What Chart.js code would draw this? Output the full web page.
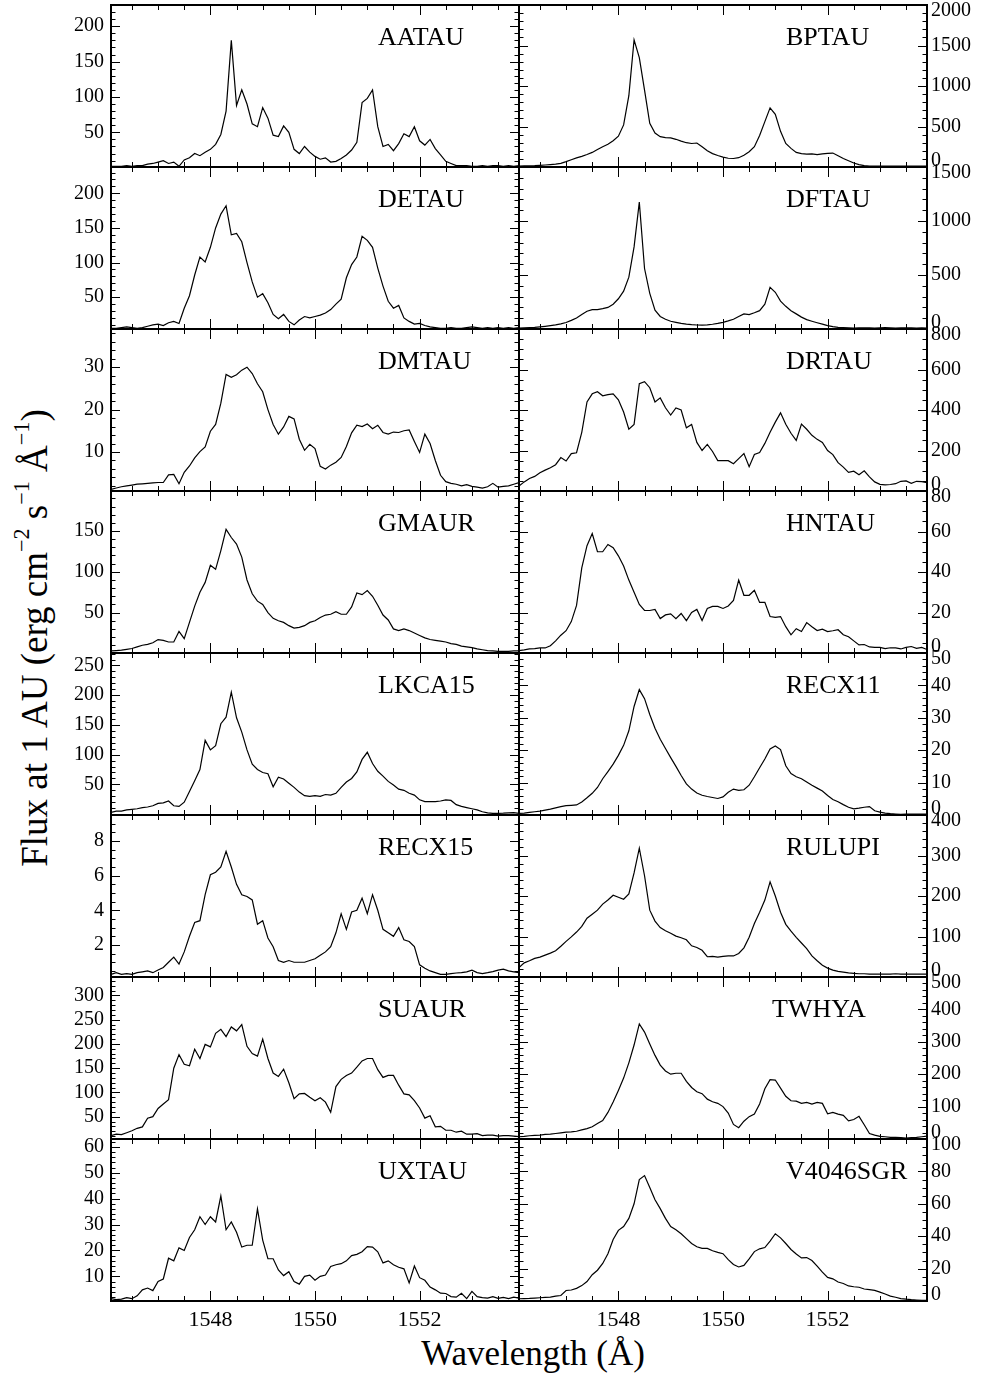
<!DOCTYPE html>
<html>
<head>
<meta charset="utf-8">
<script src="https://cdn.jsdelivr.net/npm/chart.js@4.4.0/dist/chart.umd.min.js"></script>
<style>
  html, body { margin: 0; padding: 0; background: #fff; }
  body { width: 982px; height: 1376px; position: relative; overflow: hidden; font-family: "Liberation Serif", "Times New Roman", serif; color: #000; }
  canvas { position: absolute; }
  .xtitle { position: absolute; left: 333px; width: 400px; top: 1336px; text-align: center; font-size: 35px; line-height: 35px; }
  .ytitle { position: absolute; width: 700px; height: 40px; line-height: 40px; left: -315.5px; top: 618px; text-align: center; font-size: 37px; white-space: nowrap; transform: rotate(-90deg); }
  .ytitle sup { font-size: 0.6em; vertical-align: 0.8em; line-height: 0; }
</style>
</head>
<body>
<div class="ytitle">Flux at 1 AU (erg cm<sup>&minus;2</sup> s<sup>&minus;1</sup> &Aring;<sup>&minus;1</sup>)</div>
<div class="xtitle">Wavelength (&Aring;)</div>
<script>
// wavelength grid (Angstrom), shared by every star
const wavelength = [
  1546.1, 1546.2, 1546.3, 1546.4, 1546.5, 1546.6, 1546.7, 1546.8, 1546.9, 1547.0,
  1547.1, 1547.2, 1547.3, 1547.4, 1547.5, 1547.6, 1547.7, 1547.8, 1547.9, 1548.0,
  1548.1, 1548.2, 1548.3, 1548.4, 1548.5, 1548.6, 1548.7, 1548.8, 1548.9, 1549.0,
  1549.1, 1549.2, 1549.3, 1549.4, 1549.5, 1549.6, 1549.7, 1549.8, 1549.9, 1550.0,
  1550.1, 1550.2, 1550.3, 1550.4, 1550.5, 1550.6, 1550.7, 1550.8, 1550.9, 1551.0,
  1551.1, 1551.2, 1551.3, 1551.4, 1551.5, 1551.6, 1551.7, 1551.8, 1551.9, 1552.0,
  1552.1, 1552.2, 1552.3, 1552.4, 1552.5, 1552.6, 1552.7, 1552.8, 1552.9, 1553.0,
  1553.1, 1553.2, 1553.3, 1553.4, 1553.5, 1553.6, 1553.7, 1553.8, 1553.9
];

// C IV flux at 1 AU for each star
const aatau = [
  2, 2, 2, 3, 2, 3, 3, 5, 6, 8,
  10, 6, 8, 2, 11, 14, 20, 17, 22, 26,
  33, 47, 80, 180, 88, 110, 90, 62, 58, 85,
  70, 46, 44, 59, 50, 26, 20, 30, 22, 16,
  12, 14, 8, 9, 13, 18, 25, 36, 92, 98,
  110, 58, 30, 33, 24, 34, 48, 44, 58, 38,
  32, 40, 27, 18, 9, 6, 3, 3, 3, 2,
  2, 3, 2, 3, 3, 2, 3, 2, 3
];
const bptau = [
  12, 13, 14, 16, 20, 25, 30, 36, 45, 66,
  90, 112, 132, 155, 180, 215, 250, 280, 325, 381,
  520, 880, 1570, 1350, 950, 540, 420, 375, 362, 360,
  342, 320, 300, 290, 296, 250, 200, 165, 142, 122,
  108, 105, 115, 145, 188, 250, 390, 560, 730, 650,
  440, 290, 230, 180, 165, 160, 162, 153, 162, 168,
  172, 140, 105, 78, 50, 30, 17, 12, 12, 11,
  12, 12, 12, 11, 12, 12, 12, 12, 12
];
const detau = [
  5, 5, 6, 7, 6, 5, 6, 8, 10, 11,
  9, 13, 15, 12, 34, 52, 82, 108, 101, 122,
  150, 170, 182, 140, 142, 130, 100, 72, 50, 55,
  42, 25, 19, 25, 15, 10, 17, 22, 20, 22,
  24, 27, 32, 40, 47, 78, 97, 108, 138, 132,
  122, 92, 66, 44, 34, 38, 20, 15, 11, 12,
  9, 7, 6, 5, 5, 6, 5, 5, 6, 7,
  6, 5, 6, 5, 6, 5, 6, 5, 6
];
const dftau = [
  9, 11, 13, 15, 20, 25, 31, 38, 48, 60,
  80, 102, 135, 165, 180, 180, 188, 200, 230, 280,
  350, 480, 760, 1175, 560, 330, 175, 116, 90, 72,
  62, 52, 45, 40, 37, 35, 38, 44, 52, 62,
  75, 90, 115, 140, 134, 150, 170, 230, 385, 340,
  258, 210, 170, 140, 110, 87, 72, 58, 45, 32,
  22, 15, 12, 10, 9, 10, 11, 10, 9, 10,
  12, 10, 9, 10, 11, 10, 9, 10, 9
];
const dmtau = [
  1.2, 1.5, 1.8, 2.0, 2.2, 2.4, 2.5, 2.6, 2.7, 2.8,
  2.8, 4.6, 4.7, 2.5, 5.2, 6.7, 8.6, 10.1, 11.2, 14.9,
  16.5, 21.5, 28.3, 27.6, 28.2, 29.3, 30.0, 28.5, 26.1, 24.2,
  20.0, 16.5, 14.2, 15.9, 18.4, 17.8, 13.0, 10.4, 11.8, 10.8,
  6.6, 6.0, 6.9, 7.6, 8.7, 11.3, 14.5, 16.3, 16.0, 16.6,
  15.5, 16.3, 14.6, 14.2, 14.7, 14.6, 15.0, 15.2, 12.5, 9.9,
  14.2, 12.0, 8.0, 4.5, 3.0, 2.6, 2.4, 2.0, 2.3, 1.9,
  1.7, 1.5, 1.8, 2.6, 1.7, 1.9, 2.0, 2.4, 2.8
];
const drtau = [
  25, 45, 62, 72, 90, 103, 115, 130, 165, 148,
  185, 189, 290, 440, 480, 490, 470, 476, 480, 450,
  390, 305, 329, 530, 540, 510, 440, 460, 411, 375,
  410, 400, 312, 329, 240, 200, 230, 195, 150, 150,
  150, 135, 160, 185, 120, 180, 190, 235, 290, 340,
  386, 330, 285, 250, 330, 305, 275, 255, 240, 200,
  180, 140, 118, 92, 98, 80, 100, 70, 45, 33,
  30, 32, 36, 48, 50, 38, 48, 46, 41
];
const gmaur = [
  3, 3.5, 4, 5, 6, 8, 10, 11, 13, 17,
  16, 14, 14, 27, 18, 38, 58, 75, 87, 108,
  103, 126, 152, 142, 134, 118, 90, 73, 64, 60,
  50, 43, 40, 38, 34, 31, 32, 34, 38, 40,
  44, 47, 48, 51, 48, 48, 57, 74, 72, 77,
  70, 59, 47, 41, 30, 28, 30, 28, 25, 22,
  19, 17, 16, 15, 14, 12, 11, 9, 8, 7,
  5.5, 4.5, 3.5, 3, 2.5, 2.5, 2.5, 3, 3
];
const hntau = [
  1.2, 1.5, 2.0, 2.2, 2.5, 2.5, 3.6, 6.0, 8.8, 11,
  15.5, 23.5, 42, 53, 59, 50, 50, 53.6, 52, 48,
  43, 36, 30, 24, 21, 21, 21.5, 17, 18.8, 19.3,
  17, 19.5, 16, 20, 21.5, 16, 22, 23, 23, 22,
  23.2, 26, 36, 28.5, 28.5, 31, 25, 25, 18, 17.6,
  18, 13, 9, 12, 10.6, 15, 13, 11.1, 11.8, 10.6,
  11, 11.5, 9, 8, 6, 4, 4.2, 3, 2.8, 2.8,
  2.2, 2.6, 2.5, 2.0, 2.8, 3.2, 2.3, 2.8, 1.7
];
const lkca15 = [
  3, 5, 5, 7, 8, 9, 11, 12, 14, 18,
  19, 22, 14, 13, 20, 38, 56, 75, 124, 108,
  115, 152, 163, 205, 162, 138, 108, 84, 75, 70,
  68, 46, 62, 59, 52, 45, 37, 31, 30, 31,
  30, 33, 32, 35, 45, 54, 60, 71, 92, 104,
  85, 72, 64, 55, 49, 42, 40, 35, 32, 24,
  21, 21, 21, 22, 24, 23, 16, 13, 11, 9,
  7, 4, 2, 1.3, 1.3, 1.5, 2, 2.4, 1.3
];
const recx11 = [
  0.5, 0.6, 0.8, 1.0, 1.2, 1.5, 1.8, 2.2, 2.6, 2.9,
  3.0, 3.1, 4.0, 5.3, 6.7, 8.5, 11.2, 13.4, 15.7, 18.4,
  21.5, 26.0, 33.5, 38.7, 35.9, 31.0, 26.8, 23.4, 20.5, 17.7,
  15.0, 12.2, 9.6, 8.0, 6.8, 6.1, 5.7, 5.4, 5.1, 5.6,
  7.0, 8.0, 7.6, 7.8, 9.2, 11.8, 14.6, 17.3, 20.4, 21.3,
  20.2, 15.2, 12.8, 11.8, 11.2, 10.2, 9.2, 8.3, 7.4, 6.0,
  4.8, 4.1, 3.2, 2.4, 1.9, 2.1, 2.4, 2.6, 1.3, 0.9,
  0.6, 0.4, 0.3, 0.2, 0.3, 0.3, 0.3, 0.3, 0.3
];
const recx15 = [
  0.3, 0.4, 0.3, 0.35, 0.3, 0.4, 0.45, 0.5, 0.4, 0.55,
  0.7, 1.0, 1.3, 0.9, 1.6, 2.5, 3.3, 3.4, 4.9, 6.05,
  6.2, 6.5, 7.4, 6.5, 5.5, 4.9, 4.8, 4.6, 3.2, 3.4,
  2.4, 1.9, 1.1, 1.0, 1.1, 1.0, 1.0, 1.0, 1.1, 1.2,
  1.4, 1.6, 1.9, 2.7, 3.8, 2.9, 3.9, 4.0, 4.7, 3.8,
  4.9, 4.0, 2.9, 2.7, 2.5, 3.0, 2.3, 2.2, 1.9, 0.85,
  0.65, 0.5, 0.4, 0.3, 0.3, 0.35, 0.38, 0.4, 0.45, 0.54,
  0.4, 0.35, 0.4, 0.46, 0.55, 0.6, 0.5, 0.45, 0.4
];
const rulupi = [
  23, 35, 40, 46, 49, 54, 59, 65, 76, 88,
  99, 111, 125, 145, 155, 165, 180, 190, 202, 197,
  192, 205, 257, 318, 250, 165, 138, 122, 114, 108,
  101, 97, 92, 77, 73, 66, 50, 51, 49, 51,
  52, 52, 58, 72, 98, 132, 160, 190, 235, 200,
  160, 130, 113, 98, 84, 70, 52, 40, 29, 22,
  17, 14, 12, 10, 9, 8, 8, 7, 7, 7,
  7, 7, 8, 7, 7, 7, 7, 7, 7
];
const suaur = [
  11, 14, 13, 17, 21, 26, 29, 47, 50, 67,
  76, 85, 150, 178, 158, 155, 189, 170, 199, 194,
  222, 230, 215, 235, 227, 240, 195, 180, 175, 210,
  170, 140, 133, 148, 120, 87, 97, 98, 90, 83,
  89, 80, 59, 112, 127, 135, 140, 152, 165, 170,
  170, 147, 131, 135, 135, 115, 97, 95, 83, 68,
  47, 52, 29, 30, 22, 22, 18, 20, 14, 14,
  15, 11, 12, 12, 10, 11, 11, 10, 9
];
const twhya = [
  7, 8, 10, 11, 12, 14, 15, 17, 19, 21,
  22, 24, 28, 32, 38, 48, 57, 82, 114, 150,
  188, 235, 290, 355, 330, 293, 258, 228, 210, 200,
  203, 203, 178, 159, 146, 140, 123, 115, 110, 100,
  80, 45, 35, 55, 69, 77, 108, 155, 183, 182,
  157, 132, 118, 117, 110, 113, 108, 113, 110, 78,
  82, 77, 73, 56, 60, 70, 44, 17, 12, 8,
  7, 5, 5, 4, 3, 4, 5, 7, 9
];
const uxtau = [
  1.4, 1.0, 1.2, 1.8, 1.4, 2.5, 4.8, 5.5, 4.5, 8,
  9.0, 17, 16, 21, 20, 25, 28, 33, 30, 33,
  31, 41, 28, 31, 27, 21.3, 22, 22, 36, 24,
  16.8, 16.8, 12.5, 10.3, 11.8, 8, 7, 10, 10.5, 8.5,
  10, 10.5, 13.8, 14.5, 14.9, 16, 18, 18.5, 19.5, 21.5,
  21.3, 19.5, 15.2, 16, 14.5, 13.5, 12.9, 7.5, 14, 9.5,
  8.5, 5.9, 4.8, 3.5, 3.4, 2.2, 2.0, 3.5, 1.4, 4.2,
  2.2, 1.8, 1.6, 2.2, 1.5, 1.9, 1.4, 2.0, 1.6
];
const v4046sgr = [
  1.4, 1.5, 1.6, 1.8, 2.0, 2.2, 2.4, 3.0, 3.4, 6.5,
  6.8, 7.8, 9.5, 12, 16.2, 19, 23.2, 29.2, 38, 43.6,
  46, 51, 60, 75, 77.4, 70, 62.5, 57, 51, 46,
  44, 41.5, 38.5, 35.5, 33.5, 32.5, 32.5, 31, 30, 29.2,
  25.5, 22.5, 21, 22, 26, 30.5, 32.2, 33, 37, 41.5,
  39, 35.5, 31.8, 29, 26.6, 26.8, 25, 21.5, 17.8, 14.6,
  13.7, 11.7, 10.8, 9.3, 8.8, 8.5, 7.4, 7.0, 6.6, 5.5,
  4.3, 3.0, 2.3, 1.5, 1.1, 0.8, 0.6, 0.4, 0.4
];

// one panel per star: grid slot, y range and tick steps
const panels = [
  { name: 'AATAU',    flux: aatau,    col: 0, row: 0, min: 1,    max: 230,  major: 50,  minor: 10 },
  { name: 'BPTAU',    flux: bptau,    col: 1, row: 0, min: 0,    max: 2000, major: 500, minor: 100 },
  { name: 'DETAU',    flux: detau,    col: 0, row: 1, min: 4,    max: 238,  major: 50,  minor: 10 },
  { name: 'DFTAU',    flux: dftau,    col: 1, row: 1, min: 0,    max: 1500, major: 500, minor: 100 },
  { name: 'DMTAU',    flux: dmtau,    col: 0, row: 2, min: 0.8,  max: 39,   major: 10,  minor: 2 },
  { name: 'DRTAU',    flux: drtau,    col: 1, row: 2, min: 0,    max: 800,  major: 200, minor: 50 },
  { name: 'GMAUR',    flux: gmaur,    col: 0, row: 3, min: 0.5,  max: 199,  major: 50,  minor: 10 },
  { name: 'HNTAU',    flux: hntau,    col: 1, row: 3, min: 0,    max: 80,   major: 20,  minor: 5 },
  { name: 'LKCA15',   flux: lkca15,   col: 0, row: 4, min: -1.5, max: 271,  major: 50,  minor: 10 },
  { name: 'RECX11',   flux: recx11,   col: 1, row: 4, min: 0,    max: 50,   major: 10,  minor: 2 },
  { name: 'RECX15',   flux: recx15,   col: 0, row: 5, min: 0.15, max: 9.5,  major: 2,   minor: 0.5 },
  { name: 'RULUPI',   flux: rulupi,   col: 1, row: 5, min: 0,    max: 400,  major: 100, minor: 20 },
  { name: 'SUAUR',    flux: suaur,    col: 0, row: 6, min: 4,    max: 338,  major: 50,  minor: 10 },
  { name: 'TWHYA',    flux: twhya,    col: 1, row: 6, min: 0,    max: 500,  major: 100, minor: 20, dx: -14 },
  { name: 'UXTAU',    flux: uxtau,    col: 0, row: 7, min: 0.5,  max: 63,   major: 10,  minor: 2 },
  { name: 'V4046SGR', flux: v4046sgr, col: 1, row: 7, min: 0,    max: 100,  major: 20,  minor: 5 }
];

const ROW_TOP = 5, ROW_H = 162, NROWS = 8;
const COL_LEFT = [111, 519], COL_W = 408;
const PAD = 14, AXIS_LEFT = 71, AXIS_RIGHT = 55, XLABEL_H = 40;
const FONT = '"Liberation Serif", "Times New Roman", serif';

// frame, inward ticks on all four sides, tick labels and star name
const panelFrame = {
  id: 'panelFrame',
  afterDatasetsDraw(chart, args, p) {
    const { ctx, chartArea: a, scales: { x, y } } = chart;
    ctx.save();
    ctx.strokeStyle = '#000';
    ctx.fillStyle = '#000';
    ctx.lineWidth = 1;

    // wavelength ticks every 0.5 A, long ones every 2 A
    ctx.beginPath();
    for (let k = 3093; k <= 3107; k++) {
      const v = k / 2;
      const px = Math.round(x.getPixelForValue(v)) + 0.5;
      const len = (k % 4 === 0) ? 10 : 5;
      ctx.moveTo(px, a.bottom); ctx.lineTo(px, a.bottom - len);
      ctx.moveTo(px, a.top); ctx.lineTo(px, a.top + len);
    }
    // flux ticks on both vertical edges
    const labels = [];
    const k0 = Math.ceil(p.min / p.minor - 1e-9), k1 = Math.floor(p.max / p.minor + 1e-9);
    const per = Math.round(p.major / p.minor);
    for (let k = k0; k <= k1; k++) {
      const v = k * p.minor;
      const py = Math.round(y.getPixelForValue(v)) + 0.5;
      const isMajor = k % per === 0;
      const len = isMajor ? 9 : 4.5;
      ctx.moveTo(a.left, py); ctx.lineTo(a.left + len, py);
      ctx.moveTo(a.right, py); ctx.lineTo(a.right - len, py);
      if (isMajor && (p.col === 1 || v > 0)) labels.push([v, y.getPixelForValue(v)]);
    }
    ctx.stroke();

    ctx.lineWidth = 2;
    ctx.strokeRect(a.left, a.top, a.right - a.left, a.bottom - a.top);

    ctx.font = '20px ' + FONT;
    ctx.textBaseline = 'middle';
    ctx.textAlign = p.col === 0 ? 'right' : 'left';
    const lx = p.col === 0 ? a.left - 7 : a.right + 4;
    labels.forEach(([v, py]) => {
      const cy = Math.min(Math.max(py, a.top + 6), a.bottom - 6);
      ctx.fillText(String(Math.round(v * 100) / 100), lx, cy);
    });

    if (p.row === NROWS - 1) {
      ctx.font = '22px ' + FONT;
      ctx.textAlign = 'center';
      ctx.textBaseline = 'top';
      [1548, 1550, 1552].forEach(v => ctx.fillText(String(v), x.getPixelForValue(v), a.bottom + 8));
    }

    ctx.font = '26px ' + FONT;
    ctx.textAlign = 'left';
    ctx.textBaseline = 'alphabetic';
    ctx.fillText(p.name, a.left + 267 + (p.dx || 0), a.top + 40);
    ctx.restore();
  }
};

panels.forEach(p => {
  const last = p.row === NROWS - 1;
  const padLeft = p.col === 0 ? AXIS_LEFT : PAD;
  const padRight = p.col === 0 ? PAD : AXIS_RIGHT;
  const padBottom = last ? PAD + XLABEL_H : PAD;
  const canvas = document.createElement('canvas');
  canvas.width = padLeft + COL_W + padRight;
  canvas.height = PAD + ROW_H + padBottom;
  canvas.style.left = (COL_LEFT[p.col] - padLeft) + 'px';
  canvas.style.top = (ROW_TOP + p.row * ROW_H - PAD) + 'px';
  document.body.appendChild(canvas);

  new Chart(canvas.getContext('2d'), {
    type: 'line',
    data: {
      datasets: [{
        data: wavelength.map((w, i) => ({ x: w, y: p.flux[i] })),
        borderColor: '#000',
        borderWidth: 1.2,
        pointRadius: 0,
        tension: 0,
        fill: false
      }]
    },
    options: {
      responsive: false,
      animation: false,
      events: [],
      layout: { padding: { left: padLeft, right: padRight, top: PAD, bottom: padBottom } },
      plugins: { legend: { display: false }, tooltip: { enabled: false }, panelFrame: p },
      scales: {
        x: { type: 'linear', min: 1546.1, max: 1553.9, display: false },
        y: { type: 'linear', min: p.min, max: p.max, display: false }
      }
    },
    plugins: [panelFrame]
  });
});
</script>
</body>
</html>
